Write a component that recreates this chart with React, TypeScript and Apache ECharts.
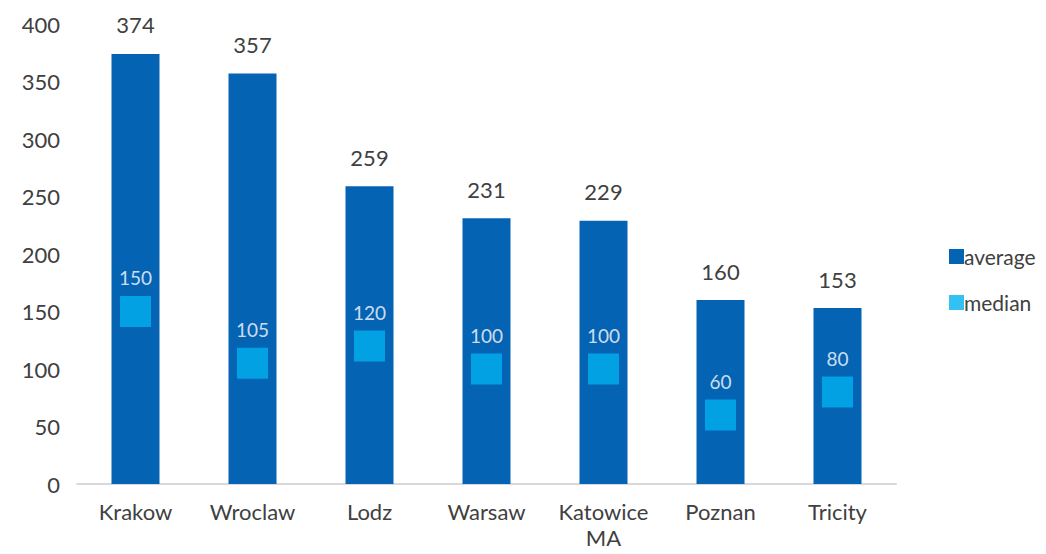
import React, { useEffect, useRef } from "react";
import * as echarts from "echarts";

const categories = ["Krakow", "Wroclaw", "Lodz", "Warsaw", "Katowice\nMA", "Poznan", "Tricity"];
const averageValues = [374, 357, 259, 231, 229, 160, 153];
const medianValues = [150, 105, 120, 100, 100, 60, 80];
const yTicks = { min: 0, max: 400, interval: 50 };

export default function App() {
  const ref = useRef<HTMLDivElement>(null);
  useEffect(() => {
    const chart = echarts.init(ref.current!, null, { renderer: "svg" });
    chart.setOption({
      animation: false,
      textStyle: { fontFamily: "Lato" },
      grid: { left: 77, right: 150, top: 24, bottom: 70, containLabel: false },
      legend: {
        orient: "vertical",
        left: 944,
        top: 241,
        icon: "rect",
        itemWidth: 15,
        itemHeight: 15,
        itemGap: 25,
        textStyle: { fontSize: 21, color: "#404040", padding: [0, 0, 0, -5] },
        data: ["average", "median"],
      },
      xAxis: {
        type: "category",
        data: categories,
        axisLine: { lineStyle: { color: "#d9d9d9", width: 2 } },
        axisTick: { show: false },
        axisLabel: { fontSize: 22, color: "#404040", margin: 14, lineHeight: 26 },
      },
      yAxis: {
        type: "value",
        min: yTicks.min,
        max: yTicks.max,
        interval: yTicks.interval,
        splitLine: { show: false },
        axisLine: { show: false },
        axisTick: { show: false },
        axisLabel: { fontSize: 22, color: "#404040", margin: 17 },
      },
      series: [
        {
          name: "average",
          type: "bar",
          data: averageValues,
          barWidth: 48,
          itemStyle: { color: "#0563b4" },
          label: { show: true, position: "top", distance: 18, fontSize: 22, color: "#404040" },
          z: 1,
        },
        {
          name: "median",
          type: "scatter",
          data: medianValues,
          symbol: "rect",
          symbolSize: 31,
          itemStyle: { color: "#00b0f0" },
          label: { show: true, position: "top", distance: 9, fontSize: 19, color: "#ffffff" },
          z: 3,
        },
      ],
    });
    return () => chart.dispose();
  }, []);
  return (
    <div
      ref={ref}
      style={{ position: "absolute", left: 0, top: 0, width: 1046, height: 554 }}
    />
  );
}
